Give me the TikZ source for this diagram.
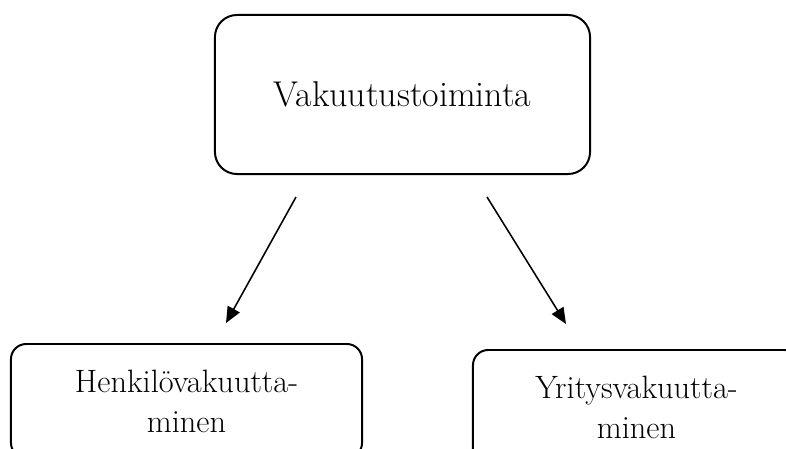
\documentclass[tikz,border=0pt]{standalone}
\usepackage{tikz}
\usetikzlibrary{positioning,arrows.meta}

\tikzset{
  lohko/.style={draw=black, line width=1.4pt, rounded corners=0.55cm,
                align=center, font=\fontsize{25.5}{30}\selectfont},
  alalohko/.style={lohko, rounded corners=0.38cm, minimum height=2.85cm,
                   font=\fontsize{23}{28.5}\selectfont},
  nuoli/.style={-{Triangle[length=0.4cm, width=0.34cm]}, line width=1.1pt}
}

\begin{document}
\begin{tikzpicture}[x=0.025cm, y=-0.025cm]
\useasboundingbox (0,0) rectangle (786,448);
\clip (0,0) rectangle (786,448);

% ===== Top box =====
\node[lohko, minimum width=9.375cm, minimum height=3.975cm] (toiminta) at (402.5,94.5) {Vakuutustoiminta};

% ===== Bottom boxes (cut by the page edge) =====
\node[alalohko, minimum width=8.775cm] (henkilo) at (186.5,401) {Henkilövakuutta-\\minen};
\node[alalohko, minimum width=8.175cm] (yritys) at (636.5,407) {Yritysvakuutta-\\minen};

% Arrow ends
\coordinate (henkilo-a) at (296,197);
\coordinate (henkilo-b) at (226,323);
\coordinate (yritys-a) at (487,197);
\coordinate (yritys-b) at (566,324);

\draw[nuoli] (henkilo-a) -- (henkilo-b);
\draw[nuoli] (yritys-a) -- (yritys-b);

\end{tikzpicture}
\end{document}
